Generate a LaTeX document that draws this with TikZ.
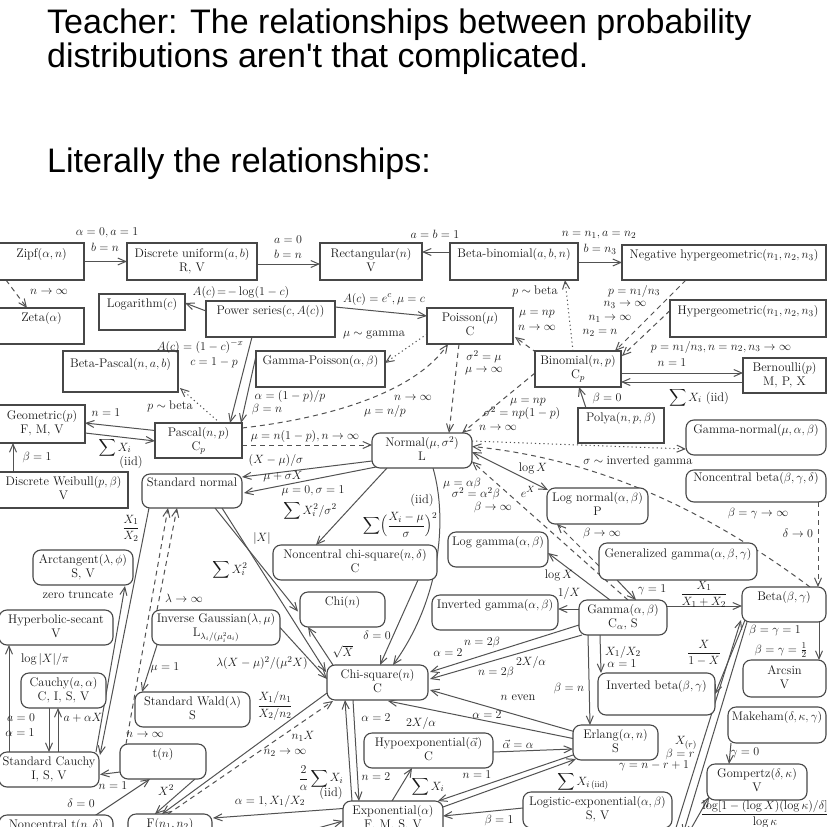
\documentclass[tikz,border=0pt]{standalone}
\usepackage{amsmath}
\usepackage{fontspec}
\newfontfamily\titlefont{Liberation Sans}[Ligatures=TeXOff]
\usetikzlibrary{arrows.meta,calc}
\pgfdeclarelayer{bg}
\pgfdeclarelayer{paper}
\pgfsetlayers{paper,bg,main}
\newcommand\dgmfont{\fontsize{12.5}{14}\selectfont}
\newcommand\twol[2]{\strut#1\\\strut#2}
\newcommand\bx[7]{\node[#1, minimum width={(#5)-(#3)}, minimum height={(#6)-(#4)}] (#2) at ({((#3)+(#5))/2},{((#4)+(#6))/2}) {\twol#7};}
\begin{document}
\begin{tikzpicture}[x=1pt,y=-1pt,
  box/.style={draw=black!72, line width=1.1pt, fill=white, inner sep=0pt, outer sep=0pt, align=center, font=\dgmfont, text=black!90},
  sbox/.style={box},
  rbox/.style={box, rounded corners=8pt},
  lab/.style={inner sep=0pt, font=\dgmfont, text=black!90},
  con/.style={draw=black!68, line width=1pt, -{Straight Barb[length=8pt,width=7pt]}},
  dcon/.style={con, dash pattern=on 5pt off 4pt},
  tcon/.style={con, dash pattern=on 1.2pt off 3pt},
  ttl/.style={anchor=base west, inner sep=0pt, font=\titlefont\fontsize{34}{34}\selectfont}]
\useasboundingbox (0,0) rectangle (827,827);
\clip (0,0) rectangle (827,827);
\begin{pgfonlayer}{paper}
\fill[white] (0,0) rectangle (827,827);
\end{pgfonlayer}

% title
\node[ttl] (t1) at (47,33) {Teacher: The relationships between probability};
\node[ttl] (t2) at (47,67) {distributions aren't that complicated.};
\node[ttl] (t3) at (47,172) {Literally the relationships:};

% boxes
\bx{sbox}{zipf}{-1}{243}{84}{280}{{Zipf$(\alpha,n)$}{}}
\bx{sbox}{du}{127}{243}{257}{280}{{Discrete uniform$(a,b)$}{R, V}}
\bx{sbox}{rect}{320}{243}{422}{280}{{Rectangular$(n)$}{V}}
\bx{sbox}{bbin}{450}{243}{578}{280}{{Beta-binomial$(a,b,n)$}{}}
\bx{sbox}{nhyp}{622}{245}{826}{280}{{Negative hypergeometric$(n_1,n_2,n_3)$}{}}
\bx{sbox}{zeta}{-1}{308}{84}{344}{{Zeta$(\alpha)$}{}}
\bx{sbox}{loga}{99}{294}{185}{330}{{Logarithm$(c)$}{}}
\bx{sbox}{pser}{206}{301}{335}{337}{{Power series$(c,A(c))$}{}}
\bx{sbox}{pois}{427}{308}{513}{344}{{Poisson$(\mu)$}{C}}
\bx{sbox}{hyp}{670}{300}{826}{337}{{Hypergeometric$(n_1,n_2,n_3)$}{}}
\bx{sbox}{bpas}{63}{351}{178}{392}{{Beta-Pascal$(n,a,b)$}{}}
\bx{sbox}{gpois}{256}{351}{385}{387}{{Gamma-Poisson$(\alpha,\beta)$}{}}
\bx{sbox}{binom}{535}{351}{621}{387}{{Binomial$(n,p)$}{C$_p$}}
\bx{sbox}{bern}{743}{358}{826}{393}{{Bernoulli$(p)$}{M, P, X}}
\bx{sbox}{geom}{-1}{405}{85}{443}{{Geometric$(p)$}{F, M, V}}
\bx{sbox}{pasc}{155}{423}{242}{458}{{Pascal$(n,p)$}{C$_p$}}
\bx{sbox}{polya}{578}{408}{664}{443}{{Polya$(n,p,\beta)$}{}}
\bx{sbox}{dweib}{-1}{472}{128}{508}{{Discrete Weibull$(p,\beta)$}{V}}
\bx{rbox}{gnorm}{686}{420}{826}{455}{{Gamma-normal$(\mu,\alpha,\beta)$}{}}
\bx{rbox}{norm}{372}{433}{472}{468}{{Normal$(\mu,\sigma^2)$}{L}}
\bx{rbox}{snorm}{142}{474}{242}{508}{{Standard normal}{}}
\bx{rbox}{ncbeta}{686}{470}{826}{502}{{Noncentral beta$(\beta,\gamma,\delta)$}{}}
\bx{rbox}{lnorm}{547}{488}{648}{524}{{Log normal$(\alpha,\beta)$}{P}}
\bx{rbox}{lgam}{448}{532}{548}{567}{{Log gamma$(\alpha,\beta)$}{}}
\bx{rbox}{ncchi}{273}{545}{437}{580}{{Noncentral chi-square$(n,\delta)$}{C}}
\bx{rbox}{arct}{33}{550}{133}{585}{{Arctangent$(\lambda,\phi)$}{S, V}}
\bx{rbox}{ggam}{599}{543}{757}{580}{{Generalized gamma$(\alpha,\beta,\gamma)$}{}}
\bx{rbox}{chi}{300}{592}{385}{627}{{Chi$(n)$}{}}
\bx{rbox}{igam}{432}{595}{558}{630}{{Inverted gamma$(\alpha,\beta)$}{}}
\bx{rbox}{gamma}{579}{600}{667}{635}{{Gamma$(\alpha,\beta)$}{C$_\alpha$, S}}
\bx{rbox}{beta}{742}{587}{826}{622}{{Beta$(\beta,\gamma)$}{}}
\bx{rbox}{hsec}{-1}{610}{113}{645}{{Hyperbolic-secant}{V}}
\bx{rbox}{igau}{152}{610}{280}{645}{{Inverse Gaussian$(\lambda,\mu)$}{L$_{\lambda_i/(\mu_i^2a_i)}$}}
\bx{rbox}{cauchy}{21}{673}{106}{708}{{Cauchy$(a,\alpha)$}{C, I, S, V}}
\bx{rbox}{chisq}{327}{665}{428}{700}{{Chi-square$(n)$}{C}}
\bx{rbox}{ibeta}{598}{673}{715}{715}{{Inverted beta$(\beta,\gamma)$}{}}
\bx{rbox}{arcsin}{743}{660}{826}{697}{{Arcsin}{V}}
\bx{rbox}{swald}{135}{692}{250}{727}{{Standard Wald$(\lambda)$}{S}}
\bx{rbox}{makeham}{728}{707}{826}{743}{{Makeham$(\delta,\kappa,\gamma)$}{}}
\bx{rbox}{erlang}{573}{725}{658}{760}{{Erlang$(\alpha,n)$}{S}}
\bx{rbox}{hypo}{364}{733}{493}{768}{{Hypoexponential$(\vec{\alpha})$}{C}}
\bx{rbox}{tn}{120}{744}{206}{779}{{t$(n)$}{}}
\bx{rbox}{scauchy}{-1}{752}{99}{787}{{Standard Cauchy}{I, S, V}}
\bx{rbox}{gomp}{707}{764}{807}{800}{{Gompertz$(\delta,\kappa)$}{V}}
\bx{rbox}{logexp}{523}{792}{672}{828}{{Logistic-exponential$(\alpha,\beta)$}{S, V}}
\bx{rbox}{expo}{343}{801}{443}{837}{{Exponential$(\alpha)$}{F, M, S, V}}
\bx{rbox}{nct}{-1}{815}{113}{851}{{Noncentral t$(n,\delta)$}{}}
\bx{rbox}{fdist}{128}{814}{212}{850}{{F$(n_1,n_2)$}{}}

\coordinate (xin) at (300,833);
\coordinate (u1) at (674,834);
\coordinate (u2) at (683,834);
\coordinate (g1) at (688,834);

\begin{pgfonlayer}{bg}
\draw[con] (zipf.east) -- (du.west);
\draw[con] ($(du.east)+(0,2.5)$) -- ($(rect.west)+(0,2.5)$);
\draw[con] ($(bbin.west)+(0,-9.5)$) -- ($(rect.east)+(0,-9.5)$);
\draw[con] ($(bbin.east)+(0,1)$) -- (nhyp.west);
\draw[dcon] ($(zipf.south west)+(7,0)$) -- ($(zeta.north west)+(28,0)$);
\draw[con] ($(pser.west)+(0,-8)$) -- ($(loga.east)+(0,-9)$);
\draw[con] ($(pser.east)+(0,-12)$) -- ($(pois.west)+(0,-10)$);
\draw[con] ($(pser.south west)+(46,0)$) -- ($(pasc.north west)+(75,0)$);
\draw[con] ($(gpois.west)+(0,-13)$) -- ($(pasc.north west)+(86,0)$);
\draw[tcon] ($(pois.west)+(0,8)$) -- ($(gpois.east)+(0,-6)$);
\draw[dcon] ($(pasc.north east)+(0,5)$) .. controls (330,418) and (415,392) .. ($(pois.south)+(-22,0)$);
\draw[dcon] ($(pois.south)+(-11,0)$) -- ($(norm.north)+(27,0)$);
\draw[dcon] ($(binom.north west)+(2,2)$) -- ($(pois.east)+(2,11)$);
\draw[tcon] ($(binom.north west)+(38,0)$) -- ($(bbin.south east)+(-13,0)$);
\draw[dcon] ($(nhyp.south west)+(64,0)$) -- ($(binom.north east)+(-6,0)$);
\draw[dcon] ($(hyp.west)+(0,-8)$) -- ($(binom.east)+(1,-13)$);
\draw[con] ($(binom.east)+(0,4)$) -- ($(bern.west)+(0,-2.5)$);
\draw[con] ($(bern.west)+(0,6.5)$) -- ($(binom.east)+(0,13)$);
\draw[con] ($(polya.north west)+(8,0)$) -- ($(binom.south)+(1,0)$);
\draw[dcon] ($(binom.west)+(0,4)$) -- ($(norm.north east)+(-10,0)$);
\draw[tcon] ($(pasc.north west)+(65,0)$) -- ($(bpas.south east)+(2,-4)$);
\draw[con] ($(pasc.west)+(0,-10)$) -- ($(geom.east)+(0,-1)$);
\draw[con] ($(geom.east)+(0,9)$) -- ($(pasc.west)+(0,0.5)$);
\draw[con] ($(dweib.north west)+(14,0)$) -- ($(geom.south west)+(14,0)$);
\draw[dcon] ($(pasc.east)+(0,4.5)$) -- ($(norm.west)+(0,-5.5)$);
\draw[con] ($(norm.south west)+(0,-7)$) -- ($(snorm.north east)+(0,3)$);
\draw[con] ($(norm.south west)+(4,-1)$) -- ($(snorm.east)+(2,2)$);
\draw[con] ($(norm.south west)+(15,0)$) -- ($(ncchi.north west)+(43,0)$);
\draw[con] ($(norm.south east)+(-39,0)$) .. controls (448,520) and (440,600) .. ($(chisq.north east)+(-35,0)$);
\draw[con] ($(ncchi.south east)+(-19,0)$) -- ($(chisq.north)+(2.5,0)$);
\draw[con, {Straight Barb[length=8pt,width=7pt]}-{Straight Barb[length=8pt,width=7pt]}] ($(norm.east)+(0,1.5)$) -- ($(lnorm.north west)+(1,2)$);
\draw[tcon] ($(norm.east)+(0,-9.5)$) -- ($(gnorm.west)+(0,11.5)$);
\draw[dcon] ($(beta.north east)+(-16,0)$) .. controls (700,505) and (590,458) .. ($(norm.east)+(0,-4)$);
\draw[dcon] ($(ncbeta.south east)+(-8,0)$) -- ($(beta.north east)+(-8,0)$);
\draw[dcon] ($(gamma.north west)+(49,0)$) -- ($(norm.east)+(0,11)$);
\draw[dcon] ($(ggam.west)+(0,4.5)$) -- ($(lnorm.south west)+(10,0)$);
\draw[con] ($(gamma.north west)+(31,0)$) -- ($(lgam.east)+(0,3.5)$);
\draw[con] ($(gamma.west)+(0,-8.5)$) -- ($(igam.east)+(0,-3.5)$);
\draw[con] ($(gamma.east)+(0,-11.5)$) -- ($(beta.west)+(0,1.5)$);
\draw[con] ($(ggam.south west)+(18,0)$) -- ($(gamma.north west)+(57,0)$);
\draw[con] ($(gamma.west)+(0,7.5)$) -- ($(chisq.east)+(2,-10.5)$);
\draw[con] ($(gamma.south west)+(3,0)$) -- ($(chisq.east)+(2,-3.5)$);
\draw[con] ($(gamma.south west)+(9,0)$) -- ($(erlang.north west)+(17,0)$);
\draw[con] ($(gamma.south west)+(21,0)$) -- ($(ibeta.north west)+(3,0)$);
\draw[con] ($(beta.south west)+(3,-2)$) -- (ibeta.east);
\draw[con] ($(beta.south east)+(-7,0)$) -- ($(arcsin.north east)+(-7,0)$);
\draw[con] ($(makeham.south west)+(3,0)$) -- ($(gomp.north west)+(22,0)$);
\draw[con] ($(erlang.west)+(1,-11)$) -- ($(chisq.east)+(2,7.5)$);
\draw[con] ($(erlang.west)+(0,-4)$) -- ($(chisq.south east)+(-40,1)$);
\draw[con] ($(hypo.east)+(0,1.5)$) -- ($(erlang.west)+(0,6.5)$);
\draw[con] ($(erlang.west)+(0,12.5)$) -- ($(expo.north east)+(-5,0)$);
\draw[con] ($(expo.east)+(0,-12)$) -- ($(erlang.south west)+(3,-1)$);
\draw[con] ($(expo.north west)+(49,0)$) -- ($(hypo.south west)+(48,0)$);
\draw[con] ($(expo.north west)+(9,0)$) -- ($(chisq.south west)+(18,0)$);
\draw[con] ($(chisq.south west)+(26,0)$) -- ($(expo.north west)+(16,0)$);
\draw[con] ($(expo.west)+(0,-10.5)$) -- ($(fdist.north east)+(1,4)$);
\draw[con] (xin) -- ($(expo.west)+(0,2)$);
\draw[con] ($(logexp.west)+(0,-2)$) -- ($(expo.east)+(0,-3)$);
\draw[con] (u1) -- ($(beta.south west)+(-1,-2)$);
\draw[con] ($(beta.south west)+(5,0)$) -- (u2);
\draw[con] (g1) -- ($(gomp.south west)+(2,-3)$);
\draw[con] ($(snorm.south west)+(73,0)$) -- ($(chi.west)+(-2,2)$);
\draw[con] ($(snorm.south west)+(80,0)$) -- ($(chisq.north west)+(-1,7)$);
\draw[con] (igau.east) -- ($(chisq.west)+(0,-3.5)$);
\draw[con] ($(chisq.north west)+(6,0)$) -- ($(chi.south west)+(8,0)$);
\draw[con] ($(igau.south west)+(5,0)$) -- ($(swald.north west)+(7,0)$);
\draw[dcon] ($(igau.north west)+(5,0)$) -- ($(snorm.south west)+(35,0)$);
\draw[dcon] ($(tn.north west)+(6,0)$) -- ($(snorm.south west)+(26,0)$);
\draw[con] ($(snorm.south west)+(7,0)$) -- ($(scauchy.north east)+(1,3)$);
\draw[con] ($(scauchy.north east)+(-3,0)$) -- ($(arct.south east)+(-8,1)$);
\draw[con] ($(scauchy.north west)+(10,0)$) -- ($(hsec.south west)+(10,0)$);
\draw[con] ($(cauchy.south west)+(28,0)$) -- ($(scauchy.north west)+(50,0)$);
\draw[con] ($(scauchy.north west)+(59,0)$) -- ($(cauchy.south west)+(37,0)$);
\draw[con] ($(tn.west)+(0,10.5)$) -- ($(scauchy.east)+(1,5)$);
\draw[con] ($(nct.north west)+(94,2)$) -- ($(tn.south west)+(30,0)$);
\draw[con] ($(tn.south east)+(-11,0)$) -- ($(fdist.north west)+(27,0)$);
\draw[dcon] ($(fdist.north west)+(40,0)$) -- ($(chisq.south west)+(6,1)$);
\draw[con] ($(chisq.south west)+(0,-7)$) -- ($(fdist.north west)+(34,0)$);
\end{pgfonlayer}

% labels
\node[lab] at (107,233) {$\alpha=0, a=1$};
\node[lab] at (105,247) {$b=n$};
\node[lab] at (288,240) {$a=0$};
\node[lab] at (288,254) {$b=n$};
\node[lab] at (435,234) {$a=b=1$};
\node[lab] at (599,235) {$n=n_1, a=n_2$};
\node[lab] at (600,249) {$b=n_3$};
\node[lab] at (49,292) {$n\to\infty$};
\node[lab] at (241,292) {$A(c)\!=\!-\log(1-c)$};
\node[lab] at (384,299) {$A(c)=e^c, \mu=c$};
\node[lab] at (374,335) {$\mu\sim\text{gamma}$};
\node[lab] at (200,347) {$A(c)=(1-c)^{-x}$};
\node[lab] at (214,363) {$c=1-p$};
\node[lab] at (290,396) {$\alpha=(1-p)/p$};
\node[lab] at (267,409) {$\beta=n$};
\node[lab] at (170,406) {$p\sim\text{beta}$};
\node[lab] at (535,291) {$p\sim\text{beta}$};
\node[lab] at (537,314) {$\mu=np$};
\node[lab] at (537,328) {$n\to\infty$};
\node[lab] at (484,357) {$\sigma^2=\mu$};
\node[lab] at (484,371) {$\mu\to\infty$};
\node[lab] at (634,291) {$p=n_1/n_3$};
\node[lab] at (625,305) {$n_3\to\infty$};
\node[lab] at (610,319) {$n_1\to\infty$};
\node[lab] at (600,333) {$n_2=n$};
\node[lab] at (721,347) {$p=n_1/n_3, n=n_2, n_3\to\infty$};
\node[lab] at (672,363) {$n=1$};
\node[lab] at (699,398) {$\displaystyle\sum X_i$ (iid)};
\node[lab] at (607,398) {$\beta=0$};
\node[lab] at (413,398) {$n\to\infty$};
\node[lab] at (385,411) {$\mu=n/p$};
\node[lab] at (528,402) {$\mu=np$};
\node[lab] at (522,413) {$\sigma^2=np(1-p)$};
\node[lab] at (498,428) {$n\to\infty$};
\node[lab] at (106,413) {$n=1$};
\node[lab] at (115,448) {$\displaystyle\sum X_i$};
\node[lab] at (131,462) {(iid)};
\node[lab] at (37,457) {$\beta=1$};
\node[lab] at (305,436) {$\mu=n(1-p), n\to\infty$};
\node[lab] at (276,460) {$(X-\mu)/\sigma$};
\node[lab] at (283,477) {$\mu+\sigma X$};
\node[lab] at (313,491) {$\mu=0, \sigma=1$};
\node[lab] at (310,511) {$\displaystyle\sum X_i^2/\sigma^2$};
\node[lab] at (422,500) {(iid)};
\node[lab] at (400,525) {$\displaystyle\sum\Bigl(\frac{X_i-\mu}{\sigma}\Bigr)^2$};
\node[lab] at (533,468) {$\log X$};
\node[lab] at (528,492) {$e^X$};
\node[lab] at (638,461) {$\sigma\sim\text{inverted gamma}$};
\node[lab] at (758,513) {$\beta=\gamma\to\infty$};
\node[lab] at (798,533) {$\delta\to 0$};
\node[lab] at (462,483) {$\mu=\alpha\beta$};
\node[lab] at (476,494) {$\sigma^2=\alpha^2\beta$};
\node[lab] at (493,507) {$\beta\to\infty$};
\node[lab] at (602,533) {$\beta\to\infty$};
\node[lab] at (559,575) {$\log X$};
\node[lab] at (569,593) {$1/X$};
\node[lab] at (652,590) {$\gamma=1$};
\node[lab] at (704,594) {$\dfrac{X_1}{X_1+X_2}$};
\node[lab] at (262,538) {$|X|$};
\node[lab] at (230,570) {$\displaystyle\sum X_i^2$};
\node[lab] at (131,528) {$\dfrac{X_1}{X_2}$};
\node[lab] at (78,595) {zero truncate};
\node[lab] at (184,598) {$\lambda\to\infty$};
\node[lab] at (377,635) {$\delta=0$};
\node[lab] at (343,652) {$\sqrt{X}$};
\node[lab] at (262,663) {$\lambda(X-\mu)^2/(\mu^2X)$};
\node[lab] at (165,668) {$\mu=1$};
\node[lab] at (45,659) {$\log|X|/\pi$};
\node[lab] at (21,718) {$a=0$};
\node[lab] at (20,733) {$\alpha=1$};
\node[lab] at (83,718) {$a+\alpha X$};
\node[lab] at (275,706) {$\dfrac{X_1/n_1}{X_2/n_2}$};
\node[lab] at (145,735) {$n\to\infty$};
\node[lab] at (303,736) {$n_1X$};
\node[lab] at (285,753) {$n_2\to\infty$};
\node[lab] at (113,786) {$n=1$};
\node[lab] at (166,790) {$X^2$};
\node[lab] at (81,803) {$\delta=0$};
\node[lab] at (448,653) {$\alpha=2$};
\node[lab] at (482,642) {$n=2\beta$};
\node[lab] at (531,662) {$2X/\alpha$};
\node[lab] at (496,672) {$n=2\beta$};
\node[lab] at (623,652) {$X_1/X_2$};
\node[lab] at (622,664) {$\alpha=1$};
\node[lab] at (569,688) {$\beta=n$};
\node[lab] at (704,653) {$\dfrac{X}{1-X}$};
\node[lab] at (775,630) {$\beta=\gamma=1$};
\node[lab] at (781,650) {$\beta=\gamma=\frac12$};
\node[lab] at (518,698) {$n$ even};
\node[lab] at (487,715) {$\alpha=2$};
\node[lab] at (421,723) {$2X/\alpha$};
\node[lab] at (376,718) {$\alpha=2$};
\node[lab] at (518,744) {$\vec{\alpha}=\alpha$};
\node[lab] at (376,777) {$n=2$};
\node[lab] at (321,778) {$\dfrac{2}{\alpha}\displaystyle\sum X_i$};
\node[lab] at (331,793) {(iid)};
\node[lab] at (428,787) {$\displaystyle\sum X_i$};
\node[lab] at (477,775) {$n=1$};
\node[lab] at (583,782) {$\displaystyle\sum X_{i\,(\mathrm{iid})}$};
\node[lab] at (686,743) {$X_{(r)}$};
\node[lab] at (680,754) {$\beta=r$};
\node[lab] at (654,766) {$\gamma=n-r+1$};
\node[lab] at (745,753) {$\gamma=0$};
\node[lab] at (499,820) {$\beta=1$};
\node[lab] at (270,801) {$\alpha=1, X_1/X_2$};
\node[lab, anchor=north west] at (701,800) {$\dfrac{\log[1-(\log X)(\log\kappa)/\delta]}{\log\kappa}$};
\end{tikzpicture}
\end{document}
